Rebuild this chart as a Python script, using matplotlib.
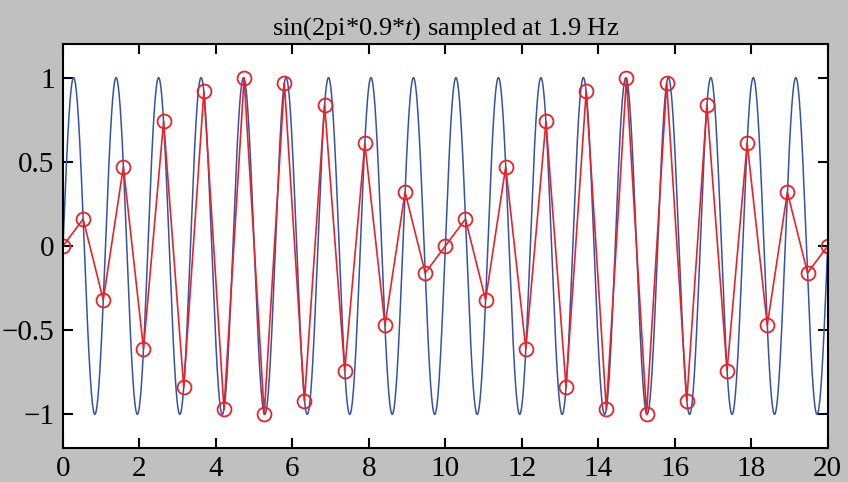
import numpy as np
import matplotlib
matplotlib.use("Agg")
import matplotlib.pyplot as plt

plt.rcParams["font.family"] = ["Liberation Serif", "DejaVu Serif"]
plt.rcParams["mathtext.fontset"] = "custom"
plt.rcParams["mathtext.it"] = "Liberation Serif:italic"
plt.rcParams["mathtext.rm"] = "Liberation Serif"

# signal and sampling
f_signal = 0.9
fs = 1.9
t_end = 20

# sample values (one per 1/1.9 s)
samples = [0, 0.16, -0.32, 0.47, -0.61, 0.74, -0.84, 0.92, -0.97, 1.0,
           -1.0, 0.97, -0.92, 0.84, -0.74, 0.61, -0.47, 0.32, -0.16, 0,
           0.16, -0.32, 0.47, -0.61, 0.74, -0.84, 0.92, -0.97, 1.0, -1.0,
           0.97, -0.92, 0.84, -0.74, 0.61, -0.47, 0.32, -0.16, 0]
t_samples = np.arange(len(samples)) / fs

xticks = [0, 2, 4, 6, 8, 10, 12, 14, 16, 18, 20]
yticks = [-1, -0.5, 0, 0.5, 1]
yticklabels = ["\u22121", "\u22120.5", "0", "0.5", "1"]

t = np.linspace(0, t_end, 4000)
x = np.sin(2 * np.pi * f_signal * t)

fig = plt.figure(figsize=(8.48, 4.82), dpi=100)
fig.patch.set_facecolor("#c0c0c0")
ax = fig.add_axes([0.0743, 0.0705, 0.9017, 0.8382])
ax.set_facecolor("white")

ax.plot(t, x, color="#3552a5", lw=1.1)
ax.plot(t_samples, samples, color="#e8222a", lw=1.2, marker="o", ms=10,
        mfc="none", mec="#e8222a", mew=1.3)

ax.set_xlim(0, 20)
ax.set_ylim(-1.2, 1.2)
ax.set_xticks(xticks)
ax.set_xticklabels([str(v) for v in xticks])
ax.set_yticks(yticks)
ax.set_yticklabels(yticklabels)
ax.tick_params(direction="in", top=True, right=True, length=7, width=1.5,
               labelsize=21, pad=6)
for s in ax.spines.values():
    s.set_linewidth(1.5)

ax.set_title(r"sin(2pi*0.9*$t$) sampled at 1.9 Hz", fontsize=19, pad=7)

fig.savefig("out.png", dpi=100, facecolor=fig.get_facecolor())
